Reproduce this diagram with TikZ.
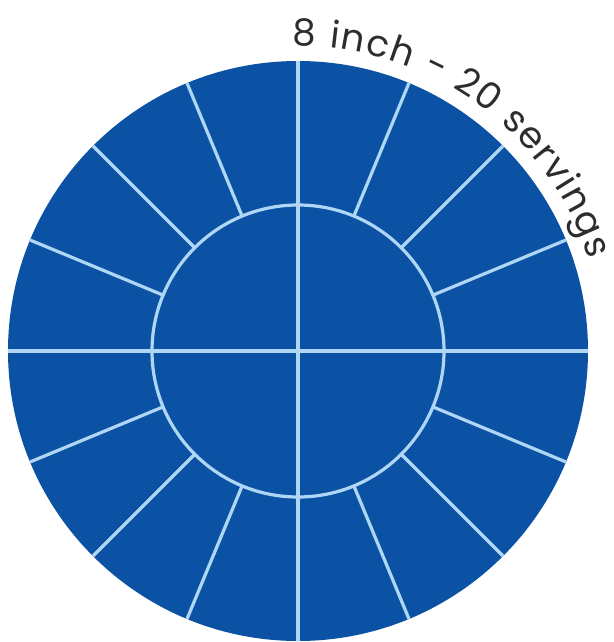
\documentclass[tikz,border=0pt]{standalone}
\usepackage{fontspec}
\newfontfamily\cakefont{Poppins}
\usetikzlibrary{decorations.text}
\definecolor{cakeblue}{RGB}{12,82,164}
\definecolor{cutline}{RGB}{175,215,245}
\definecolor{labelgray}{RGB}{45,45,45}

\begin{document}
\begin{tikzpicture}[x=1pt,y=1pt,
    cut/.style={draw=cutline, line width=3.2pt},
    label/.style={decorate, decoration={text along path, text align={fit to path},
        text color=labelgray, text={|\cakefont\fontsize{37}{40}\selectfont|8 inch - 20 servings}}},
]
\useasboundingbox (-298,-291) rectangle (315,351);
\coordinate (c) at (0,0);
% --- cake ---
\fill[cakeblue] (c) circle[radius=290];

% --- outer ring: 16 pieces ---
\foreach \a in {0,22.5,...,337.5}
  \draw[cut] (\a:146) -- (\a:290);

% --- inner circle: 4 pieces ---
\draw[cut] (c) circle[radius=146];
\draw[cut] (-290,0) -- (290,0);
\draw[cut] (0,-290) -- (0,290);

% --- label ---
\path[label] (91:305) arc[start angle=91, end angle=17.5, radius=305];
\end{tikzpicture}
\end{document}
